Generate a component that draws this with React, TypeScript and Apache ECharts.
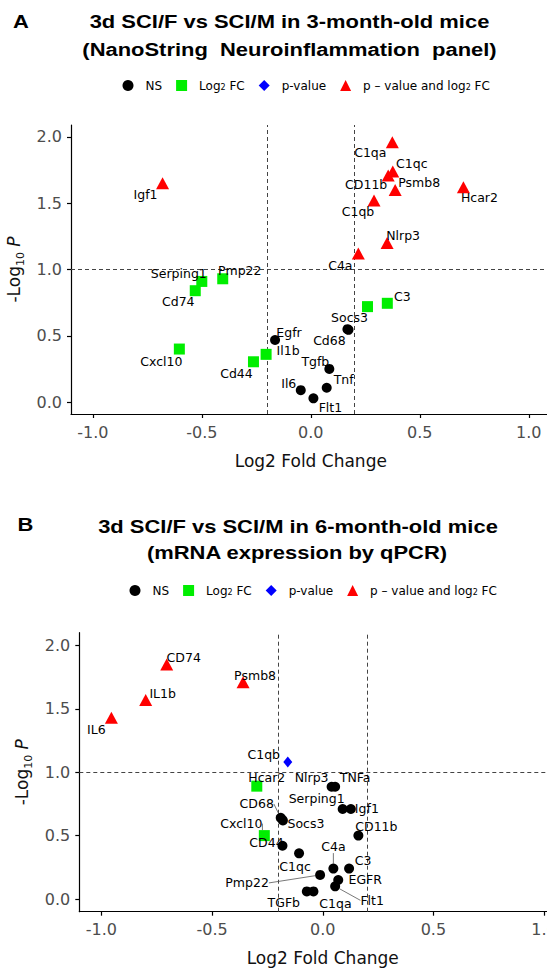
import React, { useEffect, useRef } from "react";
import * as echarts from "echarts";

// ---------- thresholds ----------
const FC_CUT = 0.2;
const P_CUT = 1.0;

// ---------- Panel A data (NanoString) ----------
const genesA = ["Igf1", "Serping1", "Cd74", "Pmp22", "C1qa", "C1qc", "CD11b", "Psmb8", "Hcar2", "C1qb", "Nlrp3", "C4a", "C3", "", "Socs3", "Cd68", "Egfr", "Il1b", "Tgfb", "Tnf", "Il6", "Flt1", "Cxcl10", "Cd44"];
const log2fcA = [-0.68, -0.5, -0.53, -0.404, 0.374, 0.376, 0.355, 0.387, 0.7, 0.29, 0.35, 0.218, 0.351, 0.26, 0.173, 0.168, -0.164, -0.205, 0.085, 0.073, -0.046, 0.012, -0.603, -0.263];
const negLog10pA = [1.65, 0.91, 0.84, 0.93, 1.96, 1.74, 1.71, 1.6, 1.62, 1.52, 1.2, 1.12, 0.745, 0.72, 0.545, 0.55, 0.468, 0.36, 0.25, 0.108, 0.09, 0.028, 0.4, 0.304];

// ---------- Panel B data (qPCR) ----------
const genesB = ["IL6", "IL1b", "CD74", "Psmb8", "C1qb", "Hcar2", "Nlrp3", "TNFa", "Serping1", "Igf1", "CD68", "Socs3", "Cxcl10", "CD44", "CD11b", "C1qc", "C4a", "C3", "Pmp22", "EGFR", "Flt1", "TGFb", "C1qa"];
const log2fcB = [-0.955, -0.8, -0.705, -0.36, -0.158, -0.298, 0.04, 0.056, 0.09, 0.127, -0.19, -0.18, -0.264, -0.182, 0.161, -0.107, 0.048, 0.119, -0.012, 0.07, 0.056, -0.072, -0.042];
const negLog10pB = [1.43, 1.57, 1.85, 1.71, 1.08, 0.89, 0.885, 0.885, 0.71, 0.71, 0.64, 0.62, 0.5, 0.42, 0.5, 0.36, 0.24, 0.24, 0.19, 0.15, 0.1, 0.06, 0.06];

// ---------- ticks / texts ----------
const xTicks = [-1, -0.5, 0, 0.5, 1];
const yTicks = [0, 0.5, 1, 1.5, 2];
const legendNames = ["NS", "Log2 FC", "p-value", "p \u2013 value and log2 FC"];
const titleA = ["3d SCI/F vs SCI/M in 3-month-old mice", "(NanoString  Neuroinflammation  panel)"];
const titleB = ["3d SCI/F vs SCI/M in 6-month-old mice", "(mRNA expression by qPCR)"];
const xName = "Log2 Fold Change";

// ---------- label placement (style, px offsets from point) ----------
const offsetsA: Record<string, number[]> = {
  Igf1: [-17, 11], Serping1: [-23, -8], Cd74: [-17, 11], Pmp22: [17, -8], C1qa: [-22, 10], C1qc: [19, -8],
  CD11b: [-22, 9], Psmb8: [24, -7], Hcar2: [16, 10], C1qb: [-16, 11], Nlrp3: [16, -7], C4a: [-18, 12],
  C3: [15, -7], Socs3: [1, -12], Cd68: [-18, 11], Egfr: [14, -8], Il1b: [22, -4], Tgfb: [-14, -7],
  Tnf: [17, -8], Il6: [-12, -7], Flt1: [17, 9], Cxcl10: [-18, 12], Cd44: [-17, 12],
};
const offsetsB: Record<string, number[]> = {
  IL6: [-15, 12], IL1b: [17, -6], CD74: [17, -7], Psmb8: [12, -7], C1qb: [-24, -8], Hcar2: [10, -9],
  Nlrp3: [-20, -9], TNFa: [20, -9], Serping1: [-26, -10], Igf1: [16, 0], CD68: [-24, -14], Socs3: [23, 3],
  Cxcl10: [-23, -12], CD44: [-16, -3], CD11b: [18, -9], C1qc: [-4, 13], C4a: [0, -22], C3: [14, -8],
  Pmp22: [-73, 8], EGFR: [27, 0], Flt1: [37, 14], TGFb: [-23, 11], C1qa: [22, 12],
};
const leaderB = ["Pmp22", "Flt1", "C4a", "CD68", "Cxcl10"];

const FONT = '"DejaVu Sans", sans-serif';
const TFONT = '"Liberation Sans", Arial, sans-serif';
const COLORS = ["#000000", "#00ee00", "#0000ff", "#ff0000"];
const SYMBOLS = ["circle", "rect", "diamond", "triangle"];
const SIZES: any[] = [10, 11, [9, 11], [13, 12]];

function category(fc: number, p: number) {
  const big = Math.abs(fc) >= FC_CUT;
  const sig = p >= P_CUT;
  return big && sig ? 3 : sig ? 2 : big ? 1 : 0;
}

function buildSeries(k: number, genes: string[], fc: number[], p: number[], offsets: Record<string, number[]>, leaders: string[]) {
  const out: any[] = [];
  for (let c = 0; c < 4; c++) {
    const idx = genes.map((_, i) => i).filter((i) => category(fc[i], p[i]) === c);
    const names = idx.map((i) => genes[i]);
    out.push({
      type: "scatter",
      name: legendNames[c],
      xAxisIndex: k,
      yAxisIndex: k,
      symbol: SYMBOLS[c],
      symbolSize: SIZES[c],
      itemStyle: { color: COLORS[c], opacity: 1 },
      data: idx.map((i) => ({
        name: genes[i],
        value: [fc[i], p[i]],
        labelLine: { show: leaders.includes(genes[i]) },
      })),
      label: {
        show: true,
        position: "inside",
        formatter: "{b}",
        color: "#000",
        fontSize: 12.5,
        fontFamily: FONT,
        textBorderWidth: 0,
      },
      labelLine: { show: false, lineStyle: { color: "#555", width: 0.8 } },
      labelLayout: (prm: any) => {
        const o = offsets[names[prm.dataIndex]] || [0, 0];
        return { dx: o[0], dy: o[1] };
      },
      markLine:
        c === 0
          ? {
              silent: true,
              symbol: "none",
              label: { show: false },
              z: 1,
              lineStyle: { type: [4, 3], color: "#444", width: 1 },
              data: [{ xAxis: -FC_CUT }, { xAxis: FC_CUT }, { yAxis: P_CUT }],
            }
          : undefined,
      z: 3,
    });
  }
  return out;
}

function xAxisFor(k: number) {
  return {
    gridIndex: k,
    type: "value",
    min: -1.1,
    max: 1.1,
    axisLine: { onZero: false, lineStyle: { color: "#000", width: 1.2 } },
    axisTick: { customValues: xTicks, length: 4, lineStyle: { color: "#000", width: 1.2 } },
    axisLabel: { customValues: xTicks, formatter: (v: number) => v.toFixed(1), color: "#4d4d4d", fontSize: 16, fontFamily: FONT, margin: 10 },
    splitLine: { show: false },
    name: xName,
    nameLocation: "middle",
    nameGap: 38,
    nameTextStyle: { color: "#111", fontSize: 17, fontFamily: FONT },
  };
}

function yAxisFor(k: number, min: number, max: number) {
  return {
    gridIndex: k,
    type: "value",
    min,
    max,
    axisLine: { show: true, onZero: false, lineStyle: { color: "#000", width: 1.2 } },
    axisTick: { show: true, customValues: yTicks, length: 4, lineStyle: { color: "#000", width: 1.2 } },
    axisLabel: { customValues: yTicks, formatter: (v: number) => v.toFixed(1), color: "#4d4d4d", fontSize: 16, fontFamily: FONT, margin: 9 },
    splitLine: { show: false },
    name: "-Log{s|10} {i|P}",
    nameLocation: "middle",
    nameRotate: 90,
    nameGap: 48,
    nameTextStyle: {
      color: "#111",
      fontSize: 17,
      fontFamily: FONT,
      rich: {
        s: { fontSize: 11, fontFamily: FONT, color: "#111", verticalAlign: "bottom", padding: [0, 0, -3, 0] },
        i: { fontSize: 17, fontFamily: FONT, color: "#111", fontStyle: "italic" },
      },
    },
  };
}

function legendFor(left: number, top: number) {
  return {
    left,
    top,
    orient: "horizontal",
    itemWidth: 11,
    itemHeight: 11,
    itemGap: 14,
    selectedMode: false,
    data: legendNames.map((n, c) => ({ name: n, icon: SYMBOLS[c] })),
    formatter: (n: string) => n.replace("log2", "log{s|2}").replace("Log2", "Log{s|2}"),
    textStyle: {
      fontFamily: FONT,
      fontSize: 12,
      color: "#000",
      padding: [0, 0, 0, 7],
      rich: { s: { fontSize: 8, fontFamily: FONT, color: "#000", verticalAlign: "bottom" } },
    },
  };
}

function titleText(text: string, x: number, y: number) {
  return {
    type: "text",
    x,
    y,
    scaleX: 1.18,
    style: { text, fill: "#000", font: `bold 18.6px ${TFONT}`, align: "center", verticalAlign: "middle" },
  };
}

export default function App() {
  const ref = useRef<HTMLDivElement>(null);
  useEffect(() => {
    if (!ref.current) return;
    const chart = echarts.init(ref.current, undefined, { renderer: "svg" });
    chart.setOption({
      animation: false,
      backgroundColor: "#fff",
      grid: [
        { left: 71, top: 125, width: 479.6, height: 289, outerBoundsMode: "none", containLabel: false },
        { left: 79.3, top: 632.7, width: 486.9, height: 279, outerBoundsMode: "none", containLabel: false },
      ],
      xAxis: [xAxisFor(0), xAxisFor(1)],
      yAxis: [yAxisFor(0, -0.09, 2.09), yAxisFor(1, -0.1, 2.1)],
      legend: [legendFor(117.5, 74.5), legendFor(124.5, 579.5)],
      graphic: [
        titleText("A", 21, 22),
        titleText(titleA[0], 289.5, 22),
        titleText(titleA[1], 289.5, 50),
        titleText("B", 25.5, 525),
        titleText(titleB[0], 298, 527),
        titleText(titleB[1], 297, 553),
      ],
      series: [
        ...buildSeries(0, genesA, log2fcA, negLog10pA, offsetsA, []),
        ...buildSeries(1, genesB, log2fcB, negLog10pB, offsetsB, leaderB),
      ],
    });
    return () => chart.dispose();
  }, []);
  return <div ref={ref} style={{ position: "fixed", left: 0, top: 0, width: 547, height: 969, background: "#fff" }} />;
}
